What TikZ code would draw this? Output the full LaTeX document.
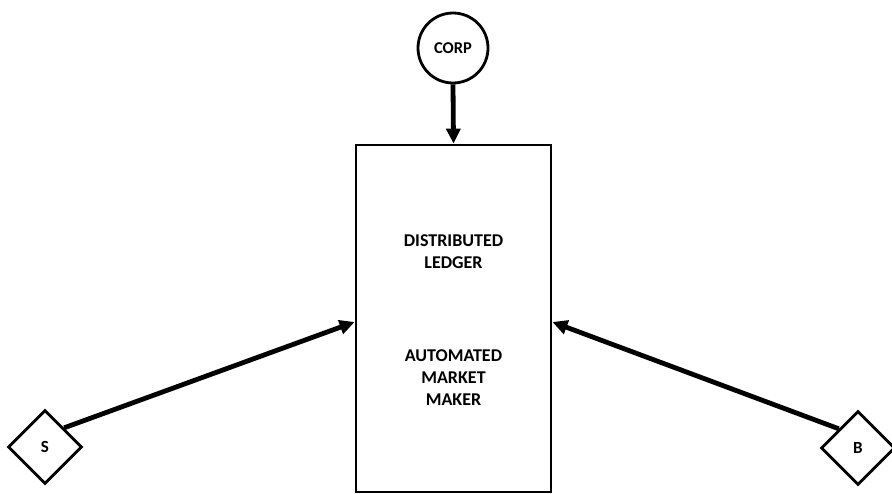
\documentclass[tikz,border=0pt]{standalone}
\usepackage{fontspec}
\setmainfont{Carlito}
\usetikzlibrary{shapes.geometric,arrows.meta,calc}
\begin{document}
\begin{tikzpicture}[x=1pt,y=-1pt,
  box/.style={draw,line width=2.8pt,minimum width=195pt,minimum height=347pt,inner sep=0pt},
  ent/.style={draw,circle,line width=2.8pt,minimum size=70pt,inner sep=0pt,font=\fontsize{16.5}{18}\selectfont\bfseries},
  party/.style={draw,diamond,line width=2.8pt,minimum width=74pt,minimum height=74pt,inner sep=0pt,font=\fontsize{17}{18}\selectfont\bfseries},
  lbl/.style={align=center,font=\fontsize{18}{22}\selectfont\bfseries},
  conn/.style={line width=4.8pt,-{Triangle[length=15pt,width=14pt]}}]
\useasboundingbox (0,0) rectangle (892,493);
\node[box] (L) at (453.5,318.5) {};
\node[lbl] (t1) at (453.5,252) {DISTRIBUTED\\LEDGER};
\node[lbl] (t2) at (453.5,377.5) {AUTOMATED\\MARKET\\MAKER};
\node[ent] (C) at (453,48) {CORP};
\node[party] (S) at (45,447) {S};
\node[party] (B) at (858,448) {B};
\draw[conn] (C.south) -- (L.north);
\draw[conn] ($(S.north)!0.5!(S.east)$) -- ([yshift=-3.5pt]L.west);
\draw[conn] ($(B.north)!0.5!(B.west)$) -- ([yshift=-3.5pt]L.east);
\end{tikzpicture}
\end{document}
